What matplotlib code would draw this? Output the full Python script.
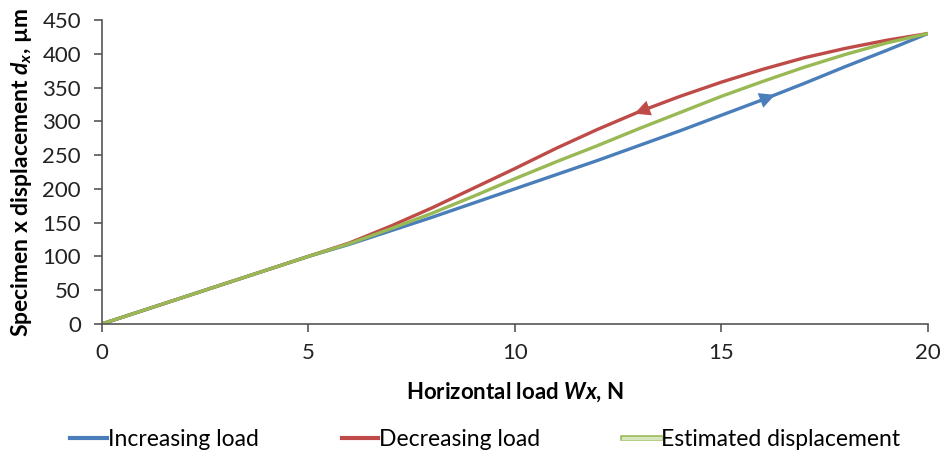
import numpy as np
import matplotlib.pyplot as plt
from matplotlib.lines import Line2D
import matplotlib.patheffects as pe

plt.rcParams['font.family'] = ['Lato', 'DejaVu Sans']
plt.rcParams['mathtext.fontset'] = 'custom'
plt.rcParams['mathtext.it'] = 'Lato:style=italic:weight=bold'
plt.rcParams['mathtext.rm'] = 'Lato:weight=bold'

# horizontal load, N
load = list(range(0, 21))
# displacement, um
increasing = [0, 20, 40, 60, 80, 100, 118, 138, 158, 179, 200, 221, 242, 264, 286, 309, 332, 356, 381, 405, 430]
decreasing = [0, 20, 40, 60, 80, 100, 120, 145, 172, 201, 230, 260, 288, 314, 337, 358, 377, 394, 408, 420, 430]
estimated = [0, 20, 40, 60, 80, 100, 119, 141, 164, 189, 215, 240, 264, 289, 313, 337, 359, 380, 399, 416, 430]

blue = '#4a7ebb'
red = '#be4b48'
green = '#98b954'

fig = plt.figure(figsize=(9.42, 4.55), dpi=100)
ax = fig.add_axes([0.108, 0.288, 0.877, 0.668])

ax.plot(load, increasing, color=blue, lw=2.4, solid_capstyle='round')
ax.plot(load, decreasing, color=red, lw=2.4, solid_capstyle='round')
ax.plot(load, estimated, color=green, lw=2.4, solid_capstyle='round')

# direction arrows on the loading / unloading branches
def arrow(x0, x1, ys, c):
    y0 = np.interp(x0, load, ys)
    y1 = np.interp(x1, load, ys)
    ax.annotate('', xy=(x1, y1), xytext=(x0, y0),
                arrowprops=dict(arrowstyle='-|>', color=c, lw=0, mutation_scale=28,
                                shrinkA=0, shrinkB=0))

arrow(15.5, 16.3, increasing, blue)
arrow(13.7, 12.9, decreasing, red)

ax.set_xlim(0, 20)
ax.set_ylim(0, 450)
ax.set_xticks(range(0, 21, 5))
ax.set_yticks(range(0, 451, 50))
for s in ['top', 'right']:
    ax.spines[s].set_visible(False)
for s in ['left', 'bottom']:
    ax.spines[s].set_color('#555555')
    ax.spines[s].set_linewidth(1.2)
ax.tick_params(axis='both', labelsize=16, colors='#222222', length=6, width=1.2,
               color='#555555')
ax.tick_params(axis='x', pad=8)
ax.tick_params(axis='y', pad=9)

ax.set_xlabel(r'Horizontal load $Wx$, N', fontsize=16, fontweight='bold', labelpad=12)
ax.set_ylabel(r'Specimen x displacement $d_x$, µm', fontsize=16.5, fontweight='bold', labelpad=6)

def handle(c, outline=False):
    if outline:
        return Line2D([], [], color='#d8e6c0', lw=2.4,
                      path_effects=[pe.Stroke(linewidth=4, foreground='#98b954'), pe.Normal()])
    return Line2D([], [], color=c, lw=3)

fig.legend([handle(blue), handle(red), handle(green, True)],
           ['Increasing load', 'Decreasing load', 'Estimated displacement'],
           loc='center', bbox_to_anchor=(0.515, 0.035), ncol=3, frameon=False,
           fontsize=16.5, handlelength=1.6, handletextpad=0.05, columnspacing=3.6)

fig.savefig('out.png', dpi=100, facecolor='white')
